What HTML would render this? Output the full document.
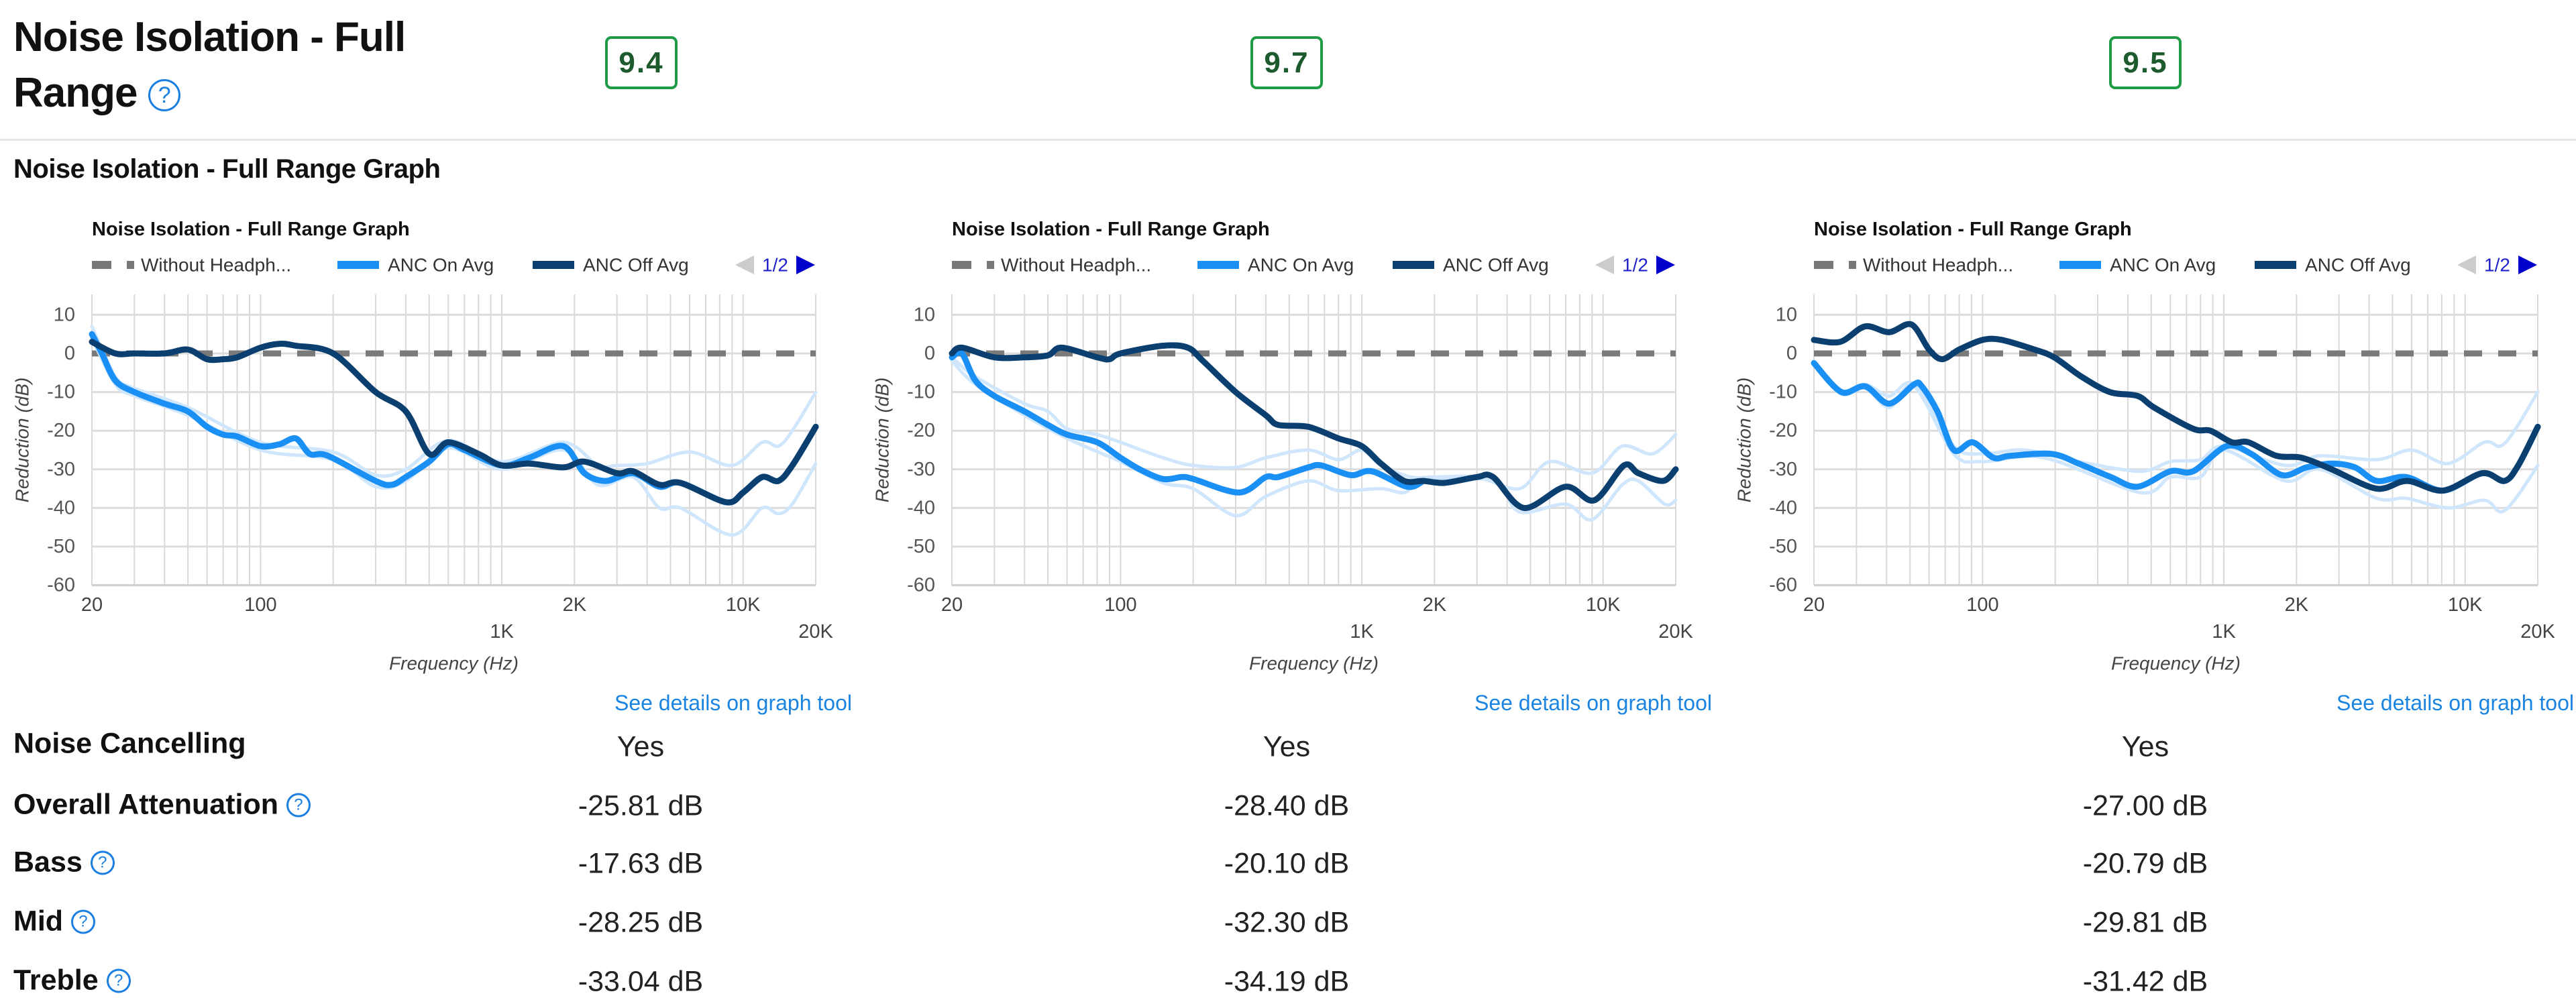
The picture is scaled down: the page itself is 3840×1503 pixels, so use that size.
<!DOCTYPE html>
<html><head><meta charset="utf-8">
<style>
html,body{margin:0;padding:0;background:#fff;}
body{width:3840px;height:1503px;position:relative;overflow:hidden;font-family:"Liberation Sans",Arial,sans-serif;color:#111;}
.abs{position:absolute;}
.h1{font-weight:bold;font-size:62px;line-height:83px;left:20px;top:14px;letter-spacing:-1px;}
.qicon{display:inline-block;border:3px solid #1a7fe0;color:#1a7fe0;border-radius:50%;text-align:center;font-weight:normal;box-sizing:border-box;}
.score{border:4px solid #1f9a45;border-radius:9px;width:108px;height:79px;box-sizing:border-box;text-align:center;line-height:71px;font-weight:bold;font-size:44px;color:#1d5a2e;letter-spacing:2px;top:54px;}
.rowlabel{font-weight:bold;font-size:43px;left:20px;white-space:nowrap;transform:translateY(-50%);}
.val{font-size:43px;transform:translate(-50%,-50%);white-space:nowrap;color:#222;}
</style></head>
<body>
<div class="abs h1">Noise Isolation - Full<br>Range <span class="qicon" style="width:48px;height:48px;font-size:34px;line-height:42px;vertical-align:6px;">?</span></div>
<div class="abs score" style="left:902px">9.4</div>
<div class="abs score" style="left:1864px">9.7</div>
<div class="abs score" style="left:3144px">9.5</div>
<div class="abs" style="left:0;top:207px;width:3840px;height:3px;background:#e4e4e4"></div>
<div class="abs" style="left:20px;top:230px;font-weight:bold;font-size:40px;letter-spacing:-0.5px">Noise Isolation - Full Range Graph</div>

<svg id="charts" class="abs" style="left:0;top:0" width="3840" height="1503"></svg>

<div class="abs rowlabel" style="top:1109px">Noise Cancelling</div>
<div class="abs rowlabel" style="top:1200px">Overall Attenuation <span class="qicon" style="width:36px;height:36px;font-size:24px;line-height:30px;vertical-align:6px;">?</span></div>
<div class="abs rowlabel" style="top:1286px">Bass <span class="qicon" style="width:36px;height:36px;font-size:24px;line-height:30px;vertical-align:6px;">?</span></div>
<div class="abs rowlabel" style="top:1374px">Mid <span class="qicon" style="width:36px;height:36px;font-size:24px;line-height:30px;vertical-align:6px;">?</span></div>
<div class="abs rowlabel" style="top:1462px">Treble <span class="qicon" style="width:36px;height:36px;font-size:24px;line-height:30px;vertical-align:6px;">?</span></div>

<div class="abs val" style="left:955px;top:1114px">Yes</div>
<div class="abs val" style="left:1918px;top:1114px">Yes</div>
<div class="abs val" style="left:3198px;top:1114px">Yes</div>
<div class="abs val" style="left:955px;top:1202px">-25.81 dB</div>
<div class="abs val" style="left:1918px;top:1202px">-28.40 dB</div>
<div class="abs val" style="left:3198px;top:1202px">-27.00 dB</div>
<div class="abs val" style="left:955px;top:1288px">-17.63 dB</div>
<div class="abs val" style="left:1918px;top:1288px">-20.10 dB</div>
<div class="abs val" style="left:3198px;top:1288px">-20.79 dB</div>
<div class="abs val" style="left:955px;top:1376px">-28.25 dB</div>
<div class="abs val" style="left:1918px;top:1376px">-32.30 dB</div>
<div class="abs val" style="left:3198px;top:1376px">-29.81 dB</div>
<div class="abs val" style="left:955px;top:1464px">-33.04 dB</div>
<div class="abs val" style="left:1918px;top:1464px">-34.19 dB</div>
<div class="abs val" style="left:3198px;top:1464px">-31.42 dB</div>

<script>
const yTicks = [10,0,-10,-20,-30,-40,-50,-60];
const xTicksRow1 = [20,100,2000,10000];
const xTicksRow1Labels = ["20","100","2K","10K"];
const xTicksRow2 = [1000,20000];
const xTicksRow2Labels = ["1K","20K"];
const xGrid = [20,30,40,50,60,70,80,90,100,200,300,400,500,600,700,800,900,1000,2000,3000,4000,5000,6000,7000,8000,9000,10000,20000];

const c1OffF = [20,25,30,40,50,60,70,80,100,120,140,200,300,400,500,600,800,1000,1300,1800,2200,3000,3500,4500,5500,8500,10000,12000,14000,16000,20000];
const c1OffV = [3,0,0,0,1,-1.5,-1.5,-1,1.5,2.5,2,0,-10,-15,-26,-23,-26,-29,-28.5,-29.5,-28,-31,-30.5,-34,-33.5,-38.5,-36,-32,-33,-29,-19];
const c1OnF = [20,22,25,30,40,50,60,70,80,100,120,140,160,190,300,350,400,500,600,700,1000,1300,1800,2200,2700,3500,4500,5500,8500,10000,12000,14000,16000,20000];
const c1OnV = [5,0,-7,-10,-13,-15,-19,-21,-21.5,-24,-23.5,-22,-26,-26.5,-33,-34,-32,-28,-23.5,-25,-29,-27,-24,-31,-33,-31,-34.5,-33.5,-38.5,-36,-32,-33,-29,-19];
const c1HiF = [20,25,30,50,100,200,300,400,600,1000,1800,2500,3000,4000,6000,9000,12000,14000,16000,20000];
const c1HiV = [7,-6,-9,-14,-23,-25.5,-31.5,-30,-22.5,-28,-23,-29,-29,-28.5,-25.5,-29,-23,-24,-20,-10];
const c1LoF = [20,25,30,50,100,200,300,400,600,1000,1800,2500,3500,4500,5500,9000,12000,14000,16000,20000];
const c1LoV = [4,-8,-11,-16,-25,-27.5,-34.5,-33,-24.5,-30,-25,-34,-32,-40,-40,-47,-40,-41.5,-39,-28.5];

const c2OffF = [20,22,30,40,50,57,80,90,100,150,190,220,300,400,450,600,800,1000,1200,1500,1800,2200,3000,3500,4700,7000,9200,12200,14000,17700,20000];
const c2OffV = [0,1.5,-1,-1,-0.5,1.5,-1,-1.5,0,2,1.5,-2,-10,-16,-18.5,-19,-22,-24,-28.5,-33,-33,-33.5,-32,-32,-40,-34.5,-38,-29,-31,-33,-30];
const c2OnF = [20,22,25,30,40,50,60,80,100,120,150,180,200,310,400,450,600,680,900,1100,1540,1800];
const c2OnV = [-1,0,-7,-11,-15,-18.5,-21,-23,-27,-30,-32.5,-32,-32.5,-36,-32,-32,-29.5,-29,-31.5,-30.5,-34.5,-33];
const c2HiF = [20,25,40,50,60,80,100,150,200,300,400,600,800,1000,1200,1600,2000,3000,4500,6000,9000,12000,16000,20000];
const c2HiV = [-1,-6,-13,-15,-19.5,-21,-23,-27,-29,-29.5,-27,-25,-27.5,-25,-29,-32,-32,-32,-35,-28,-31,-24,-26,-21];
const c2LoF = [20,25,40,60,100,150,200,300,400,600,800,1200,1500,1800,3500,4500,7000,9000,12000,14000,18000,20000];
const c2LoV = [-2,-8,-16,-22,-28,-33.5,-35,-42,-37,-33,-35.5,-35,-36,-33,-33,-41,-39,-43,-34,-33,-39,-38];

const c3OffF = [20,25.7,32.6,41,50.7,60,68,80,100,120,164,198,257,337,439,514,746,880,1080,1265,1650,2100,2800,4290,5750,8100,11770,14550,16600,20000];
const c3OffV = [3.5,3,7,5.5,7.5,1,-1.5,1,3.5,3.5,1,-1,-6,-10,-11,-14,-19.5,-20,-23,-23,-26.5,-27,-30,-35,-33,-35.5,-31,-33,-29,-19];
const c3OnF = [20,26,32.6,41,52,56,65,76,91,111,130,193,250,340,439,600,746,1026,1300,1740,2200,2800,3500,4300,5700,8100,11770,14550,16600,20000];
const c3OnV = [-2.5,-10,-8.5,-13,-8,-8.5,-15,-25,-23,-27,-26.5,-26,-28.5,-32,-34.5,-30.5,-30.5,-24,-26,-31.5,-29.5,-28.5,-29.5,-33,-32,-35.5,-31,-33,-29,-19];
const c3HiF = [20,26,32.6,41,52,76,100,150,250,450,600,800,1000,1800,2500,4300,6000,8500,12000,14000,16000,20000];
const c3HiV = [-2,-10,-8,-11,-8,-24,-26,-25,-28,-30.5,-28,-27.5,-24,-29,-26.5,-27.5,-25,-28.5,-23,-24,-20,-10];
const c3LoF = [20,26,32.6,41,52,76,100,180,450,600,800,1000,1800,2500,4300,5700,8500,12000,14000,16000,20000];
const c3LoV = [-3,-10.5,-9,-14,-8.5,-26,-28,-27,-36,-32,-32,-25,-33,-30,-37.5,-37.5,-40,-38,-41,-38,-29];

const NS = "http://www.w3.org/2000/svg";
const svg = document.getElementById("charts");
const PW = 1079, Y0 = 527, PER_DB = 5.76, PLOT_TOP = 439;
function yOf(db){ return Y0 - db*PER_DB; }
function xOf(L,f){ return L + Math.log10(f/20)/3*PW; }
function mk(tag, attrs, parent){
  const e = document.createElementNS(NS, tag);
  for (const k in attrs) e.setAttribute(k, attrs[k]);
  (parent||svg).appendChild(e);
  return e;
}
function txt(x,y,s,attrs,parent){
  const t = mk("text", Object.assign({x:x,y:y,"dominant-baseline":"central","font-family":"Liberation Sans, Arial, sans-serif"}, attrs), parent);
  t.textContent = s;
  return t;
}
function smoothPath(P){
  let d = "M"+P[0][0].toFixed(1)+","+P[0][1].toFixed(1);
  for (let i=0;i<P.length-1;i++){
    const p0=P[Math.max(0,i-1)], p1=P[i], p2=P[i+1], p3=P[Math.min(P.length-1,i+2)];
    const t=0.16;
    const c1x=p1[0]+(p2[0]-p0[0])*t, c1y=p1[1]+(p2[1]-p0[1])*t;
    const c2x=p2[0]-(p3[0]-p1[0])*t, c2y=p2[1]-(p3[1]-p1[1])*t;
    d += " C"+c1x.toFixed(1)+","+c1y.toFixed(1)+" "+c2x.toFixed(1)+","+c2y.toFixed(1)+" "+p2[0].toFixed(1)+","+p2[1].toFixed(1);
  }
  return d;
}
function line(L,F,V,color,w,name,g){
  const P = F.map((f,i)=>[xOf(L,f), yOf(V[i])]);
  const p = mk("path",{d:smoothPath(P),fill:"none",stroke:color,"stroke-width":w,"stroke-linejoin":"round","stroke-linecap":"round"},g);
  
  
}
function chart(idx,L,hiF,hiV,loF,loV,onF,onV,offF,offV){
  const g = mk("g",{});
  
  
  const R = L+PW;
  const t = txt(L, 342, "Noise Isolation - Full Range Graph", {"font-size":"29","font-weight":"bold",fill:"#111"}, g);
  
  
  const lg = mk("g",{},g);
  
  
  mk("rect",{x:L,y:389,width:29,height:12,fill:"#777"},lg);
  mk("rect",{x:L+52,y:389,width:11,height:12,fill:"#777"},lg);
  txt(L+73,395,"Without Headph...",{"font-size":"28",fill:"#333"},lg);
  mk("rect",{x:L+366,y:389,width:62,height:12,fill:"#1a90f5"},lg);
  txt(L+441,395,"ANC On Avg",{"font-size":"28",fill:"#333"},lg);
  mk("rect",{x:L+657,y:389,width:62,height:12,fill:"#0b3f70"},lg);
  txt(L+732,395,"ANC Off Avg",{"font-size":"28",fill:"#333"},lg);
  const prev = mk("polygon",{points:`${L+987},381 ${L+987},409 ${L+959},395`,fill:"#cccccc"},lg);
  
  
  txt(L+999,395,"1/2",{"font-size":"28",fill:"#2222cc"},lg);
  const next = mk("polygon",{points:`${L+1050},381 ${L+1050},409 ${L+1078},395`,fill:"#0000cc"},lg);
  
  
  xGrid.forEach(f=>{
    const x = xOf(L,f);
    mk("line",{x1:x,x2:x,y1:PLOT_TOP,y2:yOf(-60),stroke:"#d9d9d9","stroke-width":2},g);
  });
  yTicks.forEach(v=>{
    mk("line",{x1:L,x2:R,y1:yOf(v),y2:yOf(v),stroke:"#dcdcdc","stroke-width":3},g);
    const tk = txt(L-25,yOf(v),String(v),{"font-size":"29",fill:"#555","text-anchor":"end"},g);
    
    
  });
  mk("line",{x1:L,x2:R,y1:yOf(-60),y2:yOf(-60),stroke:"#cfcfcf","stroke-width":3},g);
  xTicksRow1.forEach((f,i)=>{
    const tk = txt(xOf(L,f),902,xTicksRow1Labels[i],{"font-size":"29",fill:"#444","text-anchor":"middle"},g);
    
    
  });
  xTicksRow2.forEach((f,i)=>{
    const tk = txt(xOf(L,f),942,xTicksRow2Labels[i],{"font-size":"29",fill:"#444","text-anchor":"middle"},g);
    
    
  });
  const xt = txt(L+PW/2,989,"Frequency (Hz)",{"font-size":"28","font-style":"italic",fill:"#444","text-anchor":"middle"},g);
  
  
  const yt = txt(0,0,"Reduction (dB)",{"font-size":"28","font-style":"italic",fill:"#444","text-anchor":"middle",transform:`translate(${L-104},656) rotate(-90)`},g);
  
  
  const base = mk("line",{x1:L,x2:R,y1:yOf(0),y2:yOf(0),stroke:"#7a7a7a","stroke-width":9,"stroke-dasharray":"27 24"},g);
  
  
  line(L,hiF,hiV,"#cfe6fc",5,"anc-on-upper-band",g);
  line(L,loF,loV,"#cfe6fc",5,"anc-on-lower-band",g);
  line(L,onF,onV,"#1a90f5",9,"anc-on-avg-line",g);
  line(L,offF,offV,"#0b3f70",9,"anc-off-avg-line",g);
  const a = txt(R+54,1048,"See details on graph tool",{"font-size":"32",fill:"#1a84e0","text-anchor":"end"},g);
  
  
}
chart(1,137,c1HiF,c1HiV,c1LoF,c1LoV,c1OnF,c1OnV,c1OffF,c1OffV);
chart(2,1419,c2HiF,c2HiV,c2LoF,c2LoV,c2OnF,c2OnV,c2OffF,c2OffV);
chart(3,2704,c3HiF,c3HiV,c3LoF,c3LoV,c3OnF,c3OnV,c3OffF,c3OffV);
</script>
</body></html>
